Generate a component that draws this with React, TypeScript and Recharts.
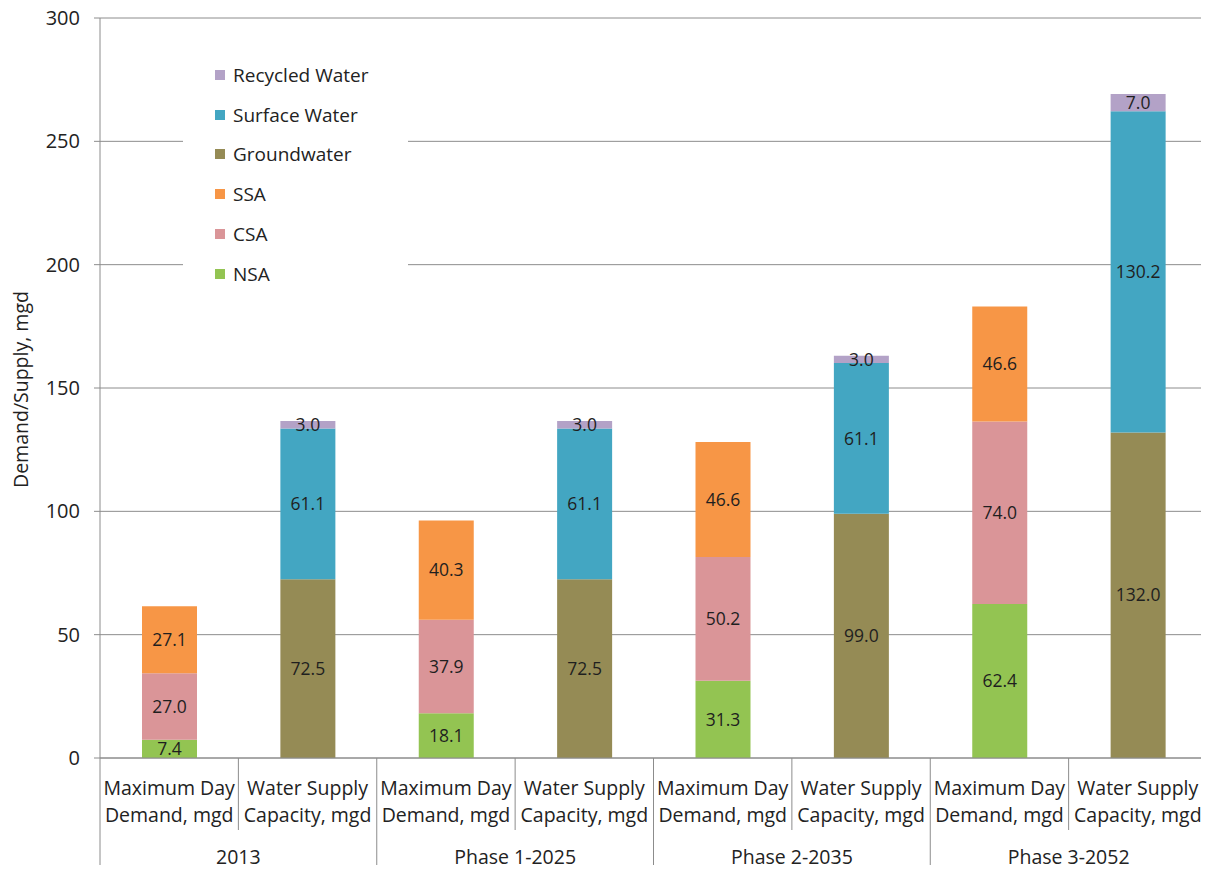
import { BarChart, Bar, XAxis, YAxis, CartesianGrid, LabelList } from 'recharts'

const categories = [
  'Maximum Day|Demand, mgd',
  'Water Supply|Capacity, mgd',
  'Maximum Day|Demand, mgd',
  'Water Supply|Capacity, mgd',
  'Maximum Day|Demand, mgd',
  'Water Supply|Capacity, mgd',
  'Maximum Day|Demand, mgd',
  'Water Supply|Capacity, mgd',
]
const groups = ['2013', 'Phase 1-2025', 'Phase 2-2035', 'Phase 3-2052']

const nsa = [7.4, null, 18.1, null, 31.3, null, 62.4, null]
const csa = [27.0, null, 37.9, null, 50.2, null, 74.0, null]
const ssa = [27.1, null, 40.3, null, 46.6, null, 46.6, null]
const groundwater = [null, 72.5, null, 72.5, null, 99.0, null, 132.0]
const surfaceWater = [null, 61.1, null, 61.1, null, 61.1, null, 130.2]
const recycledWater = [null, 3.0, null, 3.0, null, 3.0, null, 7.0]

const yTicks = [0, 50, 100, 150, 200, 250, 300]

const series = [
  { key: 'NSA', color: '#93C452' },
  { key: 'CSA', color: '#DA9598' },
  { key: 'SSA', color: '#F79646' },
  { key: 'Groundwater', color: '#958B55' },
  { key: 'Surface Water', color: '#43A6C2' },
  { key: 'Recycled Water', color: '#B3A2C7' },
]

const data = categories.map((c, i) => ({
  cat: i,
  label: c,
  NSA: nsa[i],
  CSA: csa[i],
  SSA: ssa[i],
  Groundwater: groundwater[i],
  'Surface Water': surfaceWater[i],
  'Recycled Water': recycledWater[i],
}))

const W = 1209
const H = 873
const PLOT_LEFT = 100
const PLOT_RIGHT = 1207
const BAND = (PLOT_RIGHT - PLOT_LEFT) / categories.length
const FONT = '"Open Sans", Lato, sans-serif'
const AXIS = '#8c8c8c'
const TEXT = '#222'

const CategoryTick = ({ x, y, payload }: any) => {
  const i = payload.index
  const [l1, l2] = categories[i].split('|')
  const left = x - BAND / 2
  const right = x + BAND / 2
  return (
    <g>
      <line x1={left} x2={left} y1={y} y2={i % 2 === 0 ? H : 830} stroke={AXIS} />
      {i === categories.length - 1 && <line x1={right} x2={right} y1={y} y2={H} stroke={AXIS} />}
      <text x={x} y={y + 37} textAnchor="middle" fontSize={19.5} fill={TEXT} fontFamily={FONT}>{l1}</text>
      <text x={x} y={y + 64} textAnchor="middle" fontSize={19.5} fill={TEXT} fontFamily={FONT}>{l2}</text>
      {i % 2 === 1 && (
        <text x={left} y={y + 106} textAnchor="middle" fontSize={19.5} fill={TEXT} fontFamily={FONT}>
          {groups[(i - 1) / 2]}
        </text>
      )}
    </g>
  )
}

const fmt = (v: any) => (v == null ? '' : Number(v).toFixed(1))

export default function App() {
  const legendItems = [...series].reverse()
  return (
    <div style={{ position: 'relative', width: W, height: H, margin: -8, background: '#fff' }}>
      <BarChart
        width={W}
        height={H}
        data={data}
        margin={{ top: 18, right: W - PLOT_RIGHT, left: PLOT_LEFT - 60, bottom: 0 }}
        barSize={55}
      >
        <CartesianGrid vertical={false} stroke={AXIS} />
        <XAxis
          dataKey="cat"
          type="category"
          height={115}
          tickLine={false}
          tickSize={0}
          tickMargin={0}
          interval={0}
          axisLine={{ stroke: AXIS }}
          tick={<CategoryTick />}
        />
        <YAxis
          width={60}
          domain={[0, 300]}
          ticks={yTicks}
          tickSize={6}
          tickMargin={14}
          axisLine={{ stroke: AXIS }}
          tickLine={{ stroke: AXIS }}
          tick={{ fontSize: 20, fill: TEXT, fontFamily: FONT }}
          label={{
            value: 'Demand/Supply,  mgd',
            angle: -90,
            position: 'insideLeft',
            dx: -24,
            dy: 100,
            style: { fontSize: 19.5, fill: TEXT, fontFamily: FONT },
          }}
        />
        {series.map(s => (
          <Bar key={s.key} dataKey={s.key} stackId="a" fill={s.color} isAnimationActive={false}>
            <LabelList
              dataKey={s.key}
              position="center"
              formatter={fmt}
              style={{ fontSize: 17.5, fill: '#1f1f1f', fontFamily: FONT }}
            />
          </Bar>
        ))}
      </BarChart>
      <div
        style={{
          position: 'absolute',
          left: 183,
          top: 55,
          width: 225,
          height: 238,
          background: '#fff',
          fontFamily: FONT,
          fontSize: 19,
          color: TEXT,
        }}
      >
        {legendItems.map((s, i) => (
          <div
            key={s.key}
            style={{ position: 'absolute', left: 32, top: 7 + i * 39.7, display: 'flex', alignItems: 'center', gap: 8, whiteSpace: 'nowrap' }}
          >
            <div style={{ width: 10, height: 10, background: s.color }} />
            <span>{s.key}</span>
          </div>
        ))}
      </div>
    </div>
  )
}
